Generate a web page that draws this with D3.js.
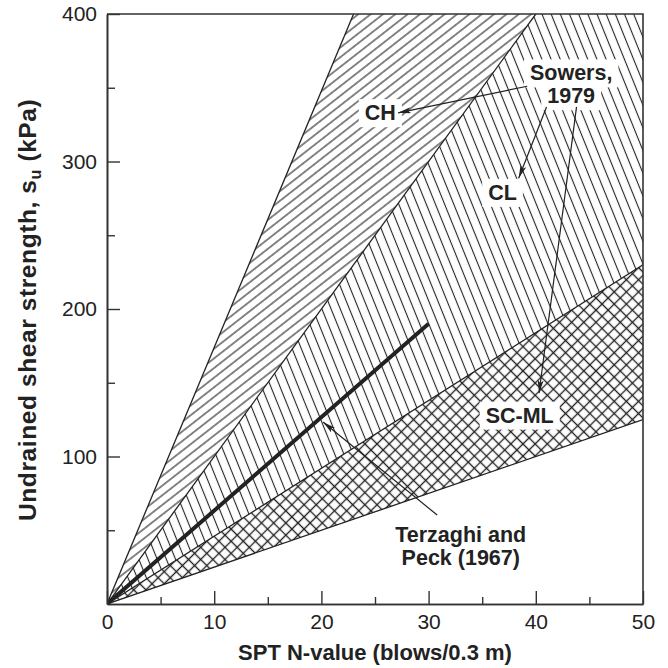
<!DOCTYPE html>
<html><head><meta charset="utf-8">
<script src="https://cdn.jsdelivr.net/npm/d3@7"></script>
<style>
html,body{margin:0;padding:0;background:#fff;}
svg{display:block;font-family:"Liberation Sans",Arial,Helvetica,sans-serif;}
</style></head><body>
<svg id="chart" width="668" height="668"></svg>
<script>
// Axis ticks
const xMajorTicks = [0, 10, 20, 30, 40, 50];
const xMinorTicks = [5, 15, 25, 35, 45];
const yMajorTicks = [100, 200, 300, 400];
const yMinorTicks = [50, 150, 250, 350];

// Zone boundaries: straight lines from the origin, given by their far end (N, su kPa)
const chUpper = [23, 400];
const chClBoundary = [40, 400];
const clLower = [50, 230];     // also the top of SC-ML
const scmlLower = [50, 125];

// Zone outlines
const zoneCH = [[0, 0], chUpper, chClBoundary];
const zoneCL = [[0, 0], chClBoundary, [50, 400], clLower];
const zoneSCML = [[0, 0], clLower, scmlLower];

// Terzaghi and Peck (1967) trend
const terzaghiPeck = [[0, 0], [30, 190]];

// Text labels: [text, N, su] (centre, baseline)
const zoneLabels = [["CH", 25.5, 328], ["CL", 36.9, 274], ["SC-ML", 38.5, 123]];
const sowersLines = [["Sowers,", 43.3, 355], ["1979", 43.3, 339.5]];
const terzaghiLines = [["Terzaghi and", 33.0, 42], ["Peck (1967)", 33.0, 26.5]];

// Leader arrows: [fromN, fromSu, toN, toSu]
const leaders = [
  [39.2, 351, 27.15, 333],
  [41.0, 337, 38.4, 288.6],
  [43.8, 337, 40.3, 143],
  [30.8, 60.3, 20.15, 123.4]
];

const svg = d3.select("#chart");
const x = d3.scaleLinear().domain([0, 50]).range([107, 643]);
const y = d3.scaleLinear().domain([0, 400]).range([604, 14]);
const ink = "#222";

const defs = svg.append("defs");
function hatch(id, spacing, angle, cross, width) {
  const p = defs.append("pattern").attr("id", id)
    .attr("patternUnits", "userSpaceOnUse")
    .attr("width", spacing).attr("height", spacing)
    .attr("patternTransform", `rotate(${angle})`);
  p.append("line").attr("x1", -1).attr("x2", spacing + 1)
    .attr("y1", spacing / 2).attr("y2", spacing / 2)
    .attr("stroke", ink).attr("stroke-width", width);
  if (cross) {
    p.append("line").attr("y1", -1).attr("y2", spacing + 1)
      .attr("x1", spacing / 2).attr("x2", spacing / 2)
      .attr("stroke", ink).attr("stroke-width", width);
  }
}
hatch("hCH", 7.6, -38, false, 1.1);
hatch("hCL", 8.5, 68, false, 1.1);
hatch("hSC", 8.6, 45, true, 1.35);

defs.append("clipPath").attr("id", "plotClip").append("rect")
  .attr("x", x(0)).attr("y", y(400)).attr("width", x(50) - x(0)).attr("height", y(0) - y(400));

defs.append("marker").attr("id", "arrow")
  .attr("viewBox", "0 0 13 6").attr("refX", 13).attr("refY", 3)
  .attr("markerWidth", 13).attr("markerHeight", 6)
  .attr("markerUnits", "userSpaceOnUse").attr("orient", "auto")
  .append("path").attr("d", "M0,0 L13,3 L0,6 L3,3 Z").attr("fill", ink);

const line = d3.line().x(d => x(d[0])).y(d => y(d[1]));
const plot = svg.append("g").attr("clip-path", "url(#plotClip)");

// Hatched zones
[[zoneCH, "hCH"], [zoneCL, "hCL"], [zoneSCML, "hSC"]].forEach(([pts, pat]) => {
  plot.append("path").attr("d", line(pts) + "Z").attr("fill", `url(#${pat})`).attr("stroke", "none");
});

// Zone boundary lines
[chUpper, chClBoundary, clLower, scmlLower].forEach(end => {
  plot.append("path").attr("d", line([[0, 0], end])).attr("fill", "none")
    .attr("stroke", ink).attr("stroke-width", 1.3);
});

// Terzaghi and Peck line
plot.append("path").attr("d", line(terzaghiPeck)).attr("fill", "none")
  .attr("stroke", ink).attr("stroke-width", 4).attr("stroke-linecap", "butt");

// Labels with white backing
const labelG = svg.append("g");
function label(t, n, s, boxed) {
  const g = labelG.append("g");
  const txt = g.append("text").attr("x", x(n)).attr("y", y(s))
    .attr("text-anchor", "middle").attr("font-weight", "bold").attr("font-size", 21.5)
    .attr("fill", ink).text(t);
  if (boxed) {
    const b = txt.node().getBBox();
    g.insert("rect", "text").attr("x", b.x - 6).attr("y", b.y - 2)
      .attr("width", b.width + 12).attr("height", b.height + 4).attr("fill", "#fff");
  }
}
zoneLabels.forEach(d => label(d[0], d[1], d[2], true));
sowersLines.forEach(d => label(d[0], d[1], d[2], true));
terzaghiLines.forEach(d => label(d[0], d[1], d[2], false));

// Leader arrows
svg.append("g").selectAll("line").data(leaders).join("line")
  .attr("x1", d => x(d[0])).attr("y1", d => y(d[1]))
  .attr("x2", d => x(d[2])).attr("y2", d => y(d[3]))
  .attr("stroke", ink).attr("stroke-width", 1.2)
  .attr("marker-end", "url(#arrow)");

// Frame (top and right)
svg.append("path")
  .attr("d", `M${x(0)},${y(400)} H${x(50)} V${y(0)}`)
  .attr("fill", "none").attr("stroke", "#333").attr("stroke-width", 1.6);

// Axes with inward ticks
const axisColor = "#333";
function styleAxis(g) {
  g.selectAll(".domain").attr("stroke", axisColor).attr("stroke-width", 1.6);
  g.selectAll(".tick line").attr("stroke", axisColor).attr("stroke-width", 1.4);
  g.selectAll(".tick text").attr("fill", ink).attr("font-size", 21)
    .attr("font-family", '"Liberation Sans",Arial,Helvetica,sans-serif');
}
svg.append("g").attr("transform", `translate(0,${y(0)})`)
  .call(d3.axisBottom(x).tickValues(xMinorTicks).tickSizeInner(-7).tickSizeOuter(0).tickFormat(""))
  .call(styleAxis);
svg.append("g").attr("transform", `translate(0,${y(0)})`)
  .call(d3.axisBottom(x).tickValues(xMajorTicks).tickSizeInner(-13).tickSizeOuter(0).tickPadding(10).tickFormat(d3.format("d")))
  .call(styleAxis);
svg.append("g").attr("transform", `translate(${x(0)},0)`)
  .call(d3.axisLeft(y).tickValues(yMinorTicks).tickSizeInner(-8).tickSizeOuter(0).tickFormat(""))
  .call(styleAxis);
svg.append("g").attr("transform", `translate(${x(0)},0)`)
  .call(d3.axisLeft(y).tickValues(yMajorTicks).tickSizeInner(-13).tickSizeOuter(0).tickPadding(10).tickFormat(d3.format("d")))
  .call(styleAxis);

// Axis titles
svg.append("text").attr("x", (x(0) + x(50)) / 2).attr("y", 660)
  .attr("text-anchor", "middle").attr("font-weight", "bold").attr("font-size", 22)
  .attr("fill", ink).text("SPT N-value (blows/0.3 m)");

const yt = svg.append("text").attr("transform", "translate(36,521) rotate(-90)")
  .attr("text-anchor", "start").attr("font-weight", "bold").attr("font-size", 24.5)
  .attr("letter-spacing", 0.6).attr("fill", ink);
yt.append("tspan").text("Undrained shear strength, s");
yt.append("tspan").attr("font-size", 16).attr("dy", 5).text("u");
yt.append("tspan").attr("dy", -5).text(" (kPa)");
</script>
</body></html>
